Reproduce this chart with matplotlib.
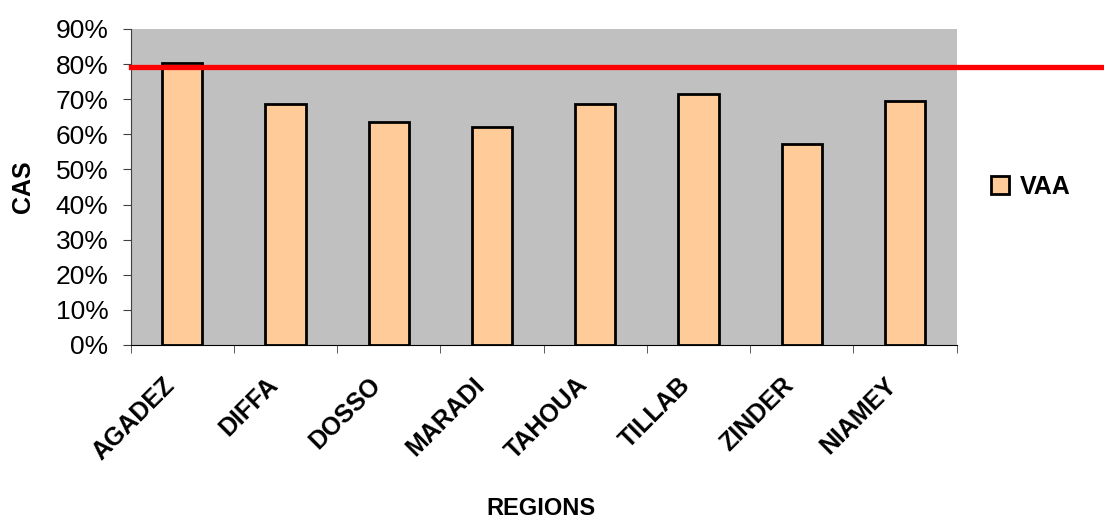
import matplotlib.pyplot as plt
import matplotlib.transforms as mtransforms
import numpy as np
from matplotlib.ticker import PercentFormatter

plt.rcParams['font.family'] = ['Liberation Sans', 'DejaVu Sans']

regions = ['AGADEZ', 'DIFFA', 'DOSSO', 'MARADI', 'TAHOUA', 'TILLAB', 'ZINDER', 'NIAMEY']
vaa = [80.2, 68.6, 63.6, 62.2, 68.7, 71.5, 57.3, 69.5]
target = 79.3
yticks = np.arange(0, 91, 10)

fig = plt.figure(figsize=(11.04, 5.19), dpi=100)
ax = fig.add_axes([0.1184, 0.3353, 0.748, 0.6089])
ax.set_facecolor('#c0c0c0')

x = np.arange(len(regions))
ax.bar(x, vaa, width=0.39, color='#ffcc99', edgecolor='black', linewidth=2, label='VAA', zorder=2)
# target line runs past the plot area to the figure edge
ax.axhline(target, xmin=0, xmax=1.19, color='#ff0000', linewidth=3.8, clip_on=False, zorder=3)

ax.set_xlim(-0.5, len(regions) - 0.5)
ax.set_ylim(0, 90)
ax.set_yticks(yticks)
ax.yaxis.set_major_formatter(PercentFormatter(decimals=0))
ax.set_xticks(x)
ax.set_xticklabels(regions, rotation=45, ha='right', rotation_mode='anchor', fontsize=18, fontweight='bold')
ax.set_xticks(np.arange(-0.5, len(regions), 1), minor=True)
ax.tick_params(axis='x', which='major', length=0, pad=20)
ax.tick_params(axis='x', which='minor', length=6, color='#404040', direction='out')
ax.tick_params(axis='y', length=6, color='#404040', labelsize=19, pad=10)

# nudge rotated labels left (must come after tick_params, which resets transforms)
shift = mtransforms.ScaledTranslation(-20 / 100, 0, fig.dpi_scale_trans)
for lbl in ax.get_xticklabels():
    lbl.set_transform(lbl.get_transform() + shift)

for s in ['top', 'right']:
    ax.spines[s].set_visible(False)
ax.spines['left'].set_color('#404040')
ax.spines['bottom'].set_color('black')

ax.set_ylabel('CAS', fontsize=18, fontweight='bold')
ax.yaxis.set_label_coords(-0.116, 0.5)
ax.set_xlabel('REGIONS', fontsize=17, fontweight='bold')
ax.xaxis.set_label_coords(0.4967, -0.48)

ax.legend(loc='center left', bbox_to_anchor=(0.877, 0.64), bbox_transform=fig.transFigure,
          frameon=False, handlelength=0.75, handleheight=0.75, handletextpad=0.4,
          prop={'size': 18, 'weight': 'bold'})

fig.savefig('out.png', dpi=100)
